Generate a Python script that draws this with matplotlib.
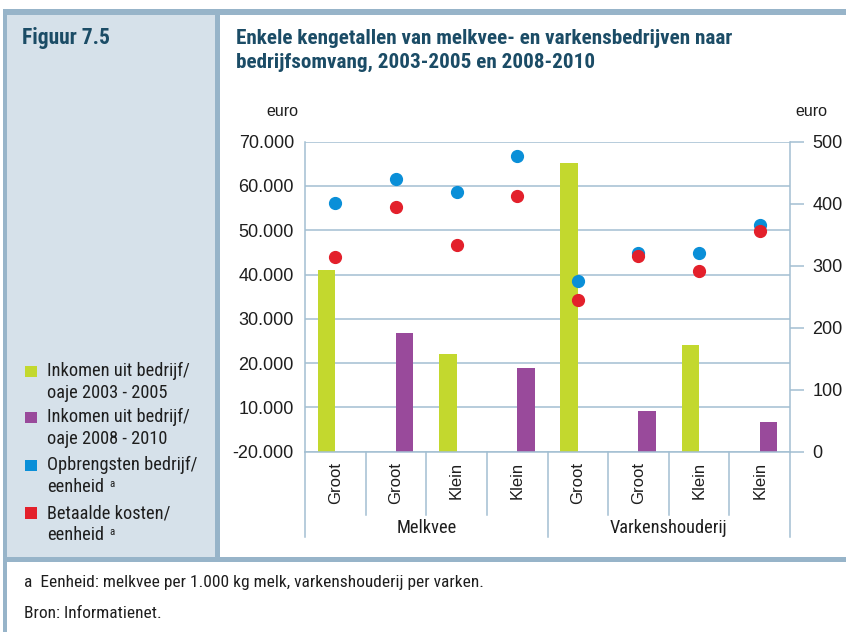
import numpy as np
import matplotlib
matplotlib.use("Agg")
import matplotlib.pyplot as plt
from matplotlib import font_manager as fm
from matplotlib.patches import Rectangle

# ---- data -------------------------------------------------------------
categories = ["Groot", "Groot", "Klein", "Klein", "Groot", "Groot", "Klein", "Klein"]
groups = ["Melkvee", "Varkenshouderij"]
inkomen_2003_2005 = [41000, np.nan, 22000, np.nan, 65200, np.nan, 24000, np.nan]
inkomen_2008_2010 = [np.nan, 26900, np.nan, 18800, np.nan, 9300, np.nan, 6700]
opbrengsten = [401, 440, 419, 476, 275, 321, 320, 365]
betaalde_kosten = [314, 394, 334, 412, 244, 316, 292, 356]
left_ticks = [0, 10000, 20000, 30000, 40000, 50000, 60000, 70000]
left_ticklabels = ["-20.000", "10.000", "20.000", "30.000", "40.000", "50.000", "60.000", "70.000"]
right_ticks = [0, 100, 200, 300, 400, 500]
legend_labels = ["Inkomen uit bedrijf/\noaje 2003 - 2005",
                 "Inkomen uit bedrijf/\noaje 2008 - 2010",
                 "Opbrengsten bedrijf/\neenheid",
                 "Betaalde kosten/\neenheid"]

# ---- style ------------------------------------------------------------
GREEN = "#c3d82e"
PURPLE = "#994a9b"
BLUE = "#0a8fd8"
RED = "#e3202b"
FRAME = "#97b4c9"
PANEL = "#d6e1ea"
GRID = "#a3bfd2"
HEAD = "#1b4c66"
TXT = "#1e1e1e"

# pick a condensed face for the running text, if one is installed
names = {f.name for f in fm.fontManager.ttflist}
NARROW_KW = None
for cand in ["Liberation Sans Narrow", "Noto Sans Condensed", "Roboto Condensed",
             "Open Sans Condensed", "Noto Sans SemiCondensed"]:
    if cand in names:
        NARROW_KW = {"family": cand}
        break
if NARROW_KW is None:
    cond = [f for f in fm.fontManager.ttflist
            if f.name in ("Noto Sans", "Open Sans", "Roboto") and f.stretch == "condensed"]
    if cond:
        NARROW_KW = {"family": cond[0].name, "stretch": "condensed"}
    else:
        NARROW_KW = {"family": "DejaVu Sans", "stretch": "condensed"}
SANS = "Liberation Sans"

W, H = 846, 632
fig = plt.figure(figsize=(W / 100, H / 100), dpi=100)
fig.patch.set_facecolor("white")
renderer = fig.canvas.get_renderer()


def fx(x):
    return x / W


def fy(y):
    return 1 - y / H


def rect(x0, y0, x1, y1, color):
    fig.patches.append(Rectangle((fx(x0), fy(y1)), fx(x1) - fx(x0), fy(y0) - fy(y1),
                                 transform=fig.transFigure, color=color, lw=0, zorder=0))


def fit_width(t, width_px, max_size=None):
    """Scale a text's font size so that it spans width_px pixels."""
    w = t.get_window_extent(renderer).width
    size = t.get_fontsize() * width_px / w
    if max_size is not None:
        size = min(size, max_size)
    t.set_fontsize(size)
    return t


# frame and panels
rect(7, 15, 215, 557, PANEL)
rect(3, 9, 846, 15, FRAME)
rect(3, 9, 7, 632, FRAME)
rect(215, 9, 220, 557, FRAME)
rect(3, 557, 846, 562, FRAME)

# headings
head_kw = dict(color=HEAD, fontsize=12, fontweight="bold", va="center", ha="left", **NARROW_KW)
fit_width(fig.text(fx(22), fy(38), "Figuur 7.5", **head_kw), 88, 15.5)
t1 = fit_width(fig.text(fx(236), fy(38),
                        "Enkele kengetallen van melkvee- en varkensbedrijven naar", **head_kw),
               496, 15.5)
fig.text(fx(236), fy(62), "bedrijfsomvang, 2003-2005 en 2008-2010",
         **{**head_kw, "fontsize": t1.get_fontsize()})

# ---- axes -------------------------------------------------------------
ax_left, ax_right, ax_top, ax_bottom = 305, 790, 141.6, 451.7
ax = fig.add_axes([fx(ax_left), fy(ax_bottom), fx(ax_right) - fx(ax_left),
                   (ax_bottom - ax_top) / H])
ax.set_facecolor("none")
x = np.arange(len(categories))
bw = 0.286
ax.bar(x - bw / 2, inkomen_2003_2005, width=bw, color=GREEN, zorder=2)
ax.bar(x + bw / 2, inkomen_2008_2010, width=bw, color=PURPLE, zorder=2)
ax.set_xlim(-0.5, len(categories) - 0.5)
ax.set_ylim(0, 70000)
ax.set_yticks(left_ticks)
ax.set_yticklabels(left_ticklabels, fontsize=13, color=TXT, family=SANS)
ax.tick_params(axis="y", length=0, pad=8)
ax.set_xticks([])
ax.grid(axis="y", color=GRID, lw=1.1)
ax.set_axisbelow(True)
for s in ["top", "right"]:
    ax.spines[s].set_visible(False)
for s in ["left", "bottom"]:
    ax.spines[s].set_color(GRID)
    ax.spines[s].set_linewidth(1.1)

ax2 = ax.twinx()
ax2.set_ylim(0, 500)
ax2.set_yticks(right_ticks)
ax2.set_yticklabels([str(t) for t in right_ticks], fontsize=13, color=TXT, family=SANS)
ax2.tick_params(axis="y", length=10, width=1.1, color=GRID, pad=6, direction="out")
for s in ["top", "left", "bottom"]:
    ax2.spines[s].set_visible(False)
ax2.spines["right"].set_color(GRID)
ax2.spines["right"].set_linewidth(1.1)
ax2.plot(x, opbrengsten, "o", color=BLUE, ms=8.5, zorder=3)
ax2.plot(x, betaalde_kosten, "o", color=RED, ms=8.5, zorder=4)

# category labels and separators below the axis
axh = ax_bottom - ax_top


def ay(ypx):
    return (ax_bottom - ypx) / axh


tr = ax.get_xaxis_transform()
for i, lab in enumerate(categories):
    ax.text(i, ay(462), lab, rotation=90, ha="center", va="top", fontsize=12,
            color=TXT, family=SANS, transform=tr, clip_on=False)
n_per_group = len(categories) // len(groups)
for b in np.arange(len(categories) + 1) - 0.5:
    end = ay(537) if (b + 0.5) % n_per_group == 0 else ay(515)
    ax.plot([b, b], [0, end], color=GRID, lw=1.1, transform=tr, clip_on=False)
grp_fs = None
for g, name in enumerate(groups):
    cx = g * n_per_group + (n_per_group - 1) / 2
    t = ax.text(cx, ay(528), name, ha="center", va="center", fontsize=12,
                color=TXT, transform=tr, clip_on=False, **NARROW_KW)
    if grp_fs is None:
        grp_fs = fit_width(t, 60, 13.5).get_fontsize()
    t.set_fontsize(grp_fs)

# unit labels
fig.text(fx(282), fy(112), "euro", ha="center", va="center", fontsize=11.5, color=TXT, family=SANS)
fig.text(fx(811), fy(112), "euro", ha="center", va="center", fontsize=11.5, color=TXT, family=SANS)

# ---- legend in the side panel ------------------------------------------
leg_colors = [GREEN, PURPLE, BLUE, RED]
leg_y = [371, 417, 465, 513]
probe = fig.text(0, 0, "Opbrengsten bedrijf/", fontsize=12, **NARROW_KW)
leg_fs = fit_width(probe, 150, 14).get_fontsize()
probe.remove()
for col, lab, y0 in zip(leg_colors, legend_labels, leg_y):
    rect(25, y0 - 5.5, 37, y0 + 5.5, col)
    l1, l2 = lab.split("\n")
    fig.text(fx(47), fy(y0), l1, ha="left", va="center", fontsize=leg_fs, color=TXT, **NARROW_KW)
    t2 = fig.text(fx(47), fy(y0 + 22), l2, ha="left", va="center", fontsize=leg_fs,
                  color=TXT, **NARROW_KW)
    if l2 == "eenheid":
        x_end = t2.get_window_extent(renderer).x1
        fig.text(x_end / W + fx(5), fy(y0 + 19), "a", ha="left", va="center",
                 fontsize=leg_fs * 0.6, color=TXT, **NARROW_KW)

# ---- footnotes ---------------------------------------------------------
foot = fit_width(fig.text(fx(24), fy(582),
                          "a  Eenheid: melkvee per 1.000 kg melk, varkenshouderij per varken.",
                          ha="left", va="center", fontsize=11, color=TXT, **NARROW_KW),
                 462, 12.5)
fig.text(fx(24), fy(614), "Bron: Informatienet.", ha="left", va="center",
         fontsize=foot.get_fontsize(), color=TXT, **NARROW_KW)

fig.savefig("out.png", dpi=100, facecolor=fig.get_facecolor())
